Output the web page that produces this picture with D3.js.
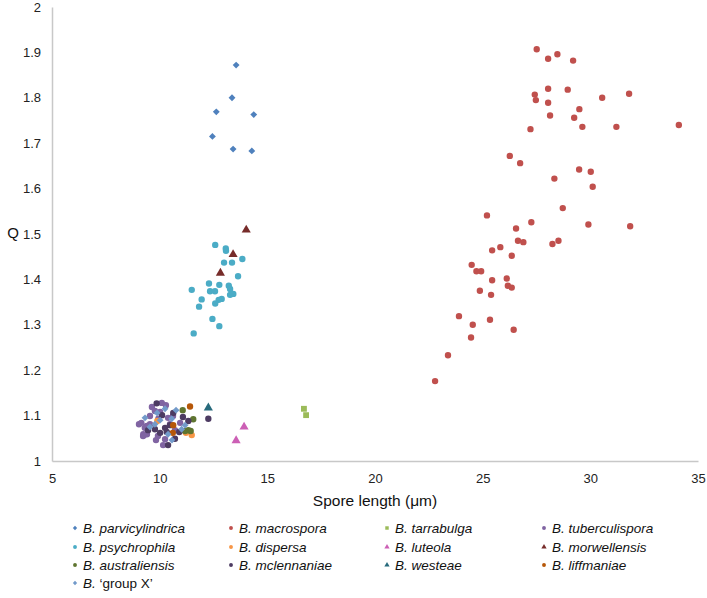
<!DOCTYPE html>
<html><head><meta charset="utf-8">
<script src="https://cdn.jsdelivr.net/npm/d3@7"></script>
<style>
body{margin:0;background:#fff;}
svg{display:block;font-family:"Liberation Sans",Arial,sans-serif;}
</style></head>
<body><svg id="c" width="707" height="598"></svg>
<script>
// ---- data (spore length µm, Q) ----
const parvicylindrica = [[13.55,1.872],[13.36,1.800],[12.63,1.769],[14.37,1.763],[12.45,1.715],[13.41,1.687],[14.28,1.683]];
const macrospora = [[27.51,1.907],[28.04,1.886],[28.47,1.896],[29.20,1.882],[28.04,1.820],[28.95,1.818],[27.42,1.807],[27.47,1.795],[28.04,1.789],[30.55,1.800],[31.80,1.809],[29.49,1.775],[28.13,1.761],[29.25,1.756],[29.63,1.736],[31.21,1.736],[34.11,1.740],[27.22,1.731],[26.26,1.672],[26.74,1.656],[29.48,1.642],[30.02,1.637],[28.33,1.622],[30.11,1.604],[28.72,1.557],[25.20,1.541],[27.26,1.526],[29.91,1.521],[31.85,1.517],[26.55,1.512],[26.64,1.485],[26.89,1.482],[28.52,1.485],[28.24,1.478],[25.82,1.471],[25.44,1.464],[26.35,1.452],[24.49,1.432],[24.71,1.418],[24.93,1.418],[25.44,1.398],[26.12,1.402],[26.17,1.386],[26.35,1.382],[24.87,1.375],[25.39,1.366],[25.34,1.311],[24.54,1.300],[26.44,1.289],[24.46,1.272],[23.90,1.319],[23.39,1.233],[22.79,1.176]];
const tarrabulga = [[16.70,1.115],[16.80,1.101]];
const tuberculispora = [[10.10,1.128],[9.78,1.110],[9.55,1.099],[9.40,1.077],[9.24,1.059],[9.94,1.093],[10.48,1.081],[10.25,1.048],[10.62,1.099],[10.95,1.084],[9.04,1.081],[9.27,1.057],[9.15,1.084],[9.31,1.073],[9.23,1.055],[9.64,1.119],[10.29,1.123],[10.16,1.035],[9.92,1.055],[10.71,1.068],[9.55,1.081],[10.39,1.095],[10.02,1.108],[9.83,1.046],[9.41,1.059]];
const psychrophila = [[12.58,1.476],[13.07,1.468],[13.08,1.463],[12.99,1.437],[13.36,1.437],[13.84,1.445],[13.64,1.407],[12.29,1.391],[12.77,1.388],[13.21,1.386],[13.27,1.379],[11.49,1.377],[12.34,1.374],[12.57,1.374],[13.42,1.368],[13.27,1.366],[11.95,1.356],[12.88,1.357],[12.74,1.355],[12.58,1.347],[11.83,1.340],[12.45,1.313],[12.77,1.297],[11.58,1.281]];
const dispersa = [[9.89,1.088],[11.49,1.057],[11.22,1.062]];
const luteola = [[13.92,1.075],[13.55,1.045]];
const morwellensis = [[14.02,1.509],[13.41,1.455],[12.82,1.414]];
const australiensis = [[11.07,1.112],[11.56,1.092],[11.33,1.068],[11.44,1.066],[11.18,1.066]];
const mclennaniae = [[9.86,1.127],[10.63,1.106],[11.33,1.088],[12.26,1.093],[9.78,1.070],[10.25,1.073],[10.02,1.062],[10.33,1.064],[10.91,1.064],[10.71,1.049],[10.48,1.079],[9.46,1.068],[11.08,1.097],[10.11,1.101],[10.39,1.035]];
const westeae = [[12.26,1.117]];
const liffmaniae = [[11.41,1.120],[10.63,1.079],[10.61,1.062]];
const groupX = [[10.25,1.115],[9.32,1.095],[9.78,1.081],[10.39,1.059],[11.02,1.070],[10.56,1.093],[10.76,1.112],[9.55,1.075],[11.18,1.079],[10.02,1.090],[10.57,1.046],[9.88,1.106]];

const xTicks = [5,10,15,20,25,30,35];
const yTicks = [1,1.1,1.2,1.3,1.4,1.5,1.6,1.7,1.8,1.9,2];

const series = [
  {name:"parvicylindrica", data:parvicylindrica, color:"#4F81BD", shape:"diamond"},
  {name:"macrospora", data:macrospora, color:"#C0504D", shape:"circle"},
  {name:"tarrabulga", data:tarrabulga, color:"#9BBB59", shape:"square"},
  {name:"tuberculispora", data:tuberculispora, color:"#8064A2", shape:"circle"},
  {name:"psychrophila", data:psychrophila, color:"#4BACC6", shape:"circle"},
  {name:"dispersa", data:dispersa, color:"#F79646", shape:"circle"},
  {name:"luteola", data:luteola, color:"#CC5FB5", shape:"triangle"},
  {name:"morwellensis", data:morwellensis, color:"#772C2A", shape:"triangle"},
  {name:"australiensis", data:australiensis, color:"#5F7530", shape:"circle"},
  {name:"mclennaniae", data:mclennaniae, color:"#4D3B62", shape:"circle"},
  {name:"westeae", data:westeae, color:"#276A7C", shape:"triangle"},
  {name:"liffmaniae", data:liffmaniae, color:"#B65708", shape:"circle"},
  {name:"\u2018group X\u2019", data:groupX, color:"#729ACA", shape:"diamond", upright:true}
];

const svg = d3.select("#c");
const x = d3.scaleLinear().domain([5,35]).range([52,698]);
const y = d3.scaleLinear().domain([1,2]).range([461,7]);

const shapes = {circle:d3.symbolCircle, diamond:d3.symbolDiamond2, square:d3.symbolSquare, triangle:d3.symbolTriangle};
const sizes = {circle:32, diamond:30, square:34, triangle:36};

// axes
const xAxis = svg.append("g").attr("transform","translate(0,461)")
  .call(d3.axisBottom(x).tickValues(xTicks).tickSize(0).tickPadding(13).tickFormat(d3.format("d")));
const yAxis = svg.append("g").attr("transform","translate(52,0)")
  .call(d3.axisLeft(y).tickValues(yTicks).tickSize(0).tickPadding(11).tickFormat(d=>d3.format("")(+d.toFixed(1))));
[xAxis,yAxis].forEach(g=>{
  g.select(".domain").attr("stroke","#c8c8c8").attr("stroke-width",1.5);
  g.selectAll("text").attr("font-size",13).attr("fill","#222").attr("font-family","Liberation Sans, Arial, sans-serif");
});

svg.append("text").attr("x",375).attr("y",506).attr("text-anchor","middle")
  .attr("font-size",15.5).attr("fill","#111").text("Spore length (\u03bcm)");
svg.append("text").attr("x",13).attr("y",238).attr("text-anchor","middle")
  .attr("font-size",15).attr("fill","#111").text("Q");

// points
series.forEach(s=>{
  svg.append("g").selectAll("path").data(s.data).join("path")
    .attr("d", d3.symbol(shapes[s.shape], sizes[s.shape]))
    .attr("transform", d=>`translate(${x(d[0])},${y(d[1])})`)
    .attr("fill", s.color);
});

// legend
const colX = [75,231,387,544], rowY = [528,547,565,583];
series.forEach((s,i)=>{
  const cx = colX[i%4], cy = rowY[Math.floor(i/4)];
  svg.append("path").attr("d", d3.symbol(shapes[s.shape], 12)())
    .attr("transform",`translate(${cx},${cy})`).attr("fill",s.color);
  const t = svg.append("text").attr("x",cx+8).attr("y",cy+5).attr("font-size",13.5).attr("fill","#111");
  t.append("tspan").attr("font-style","italic").text("B. ");
  t.append("tspan").attr("font-style", s.upright?"normal":"italic").text(s.name);
});
</script></body></html>
